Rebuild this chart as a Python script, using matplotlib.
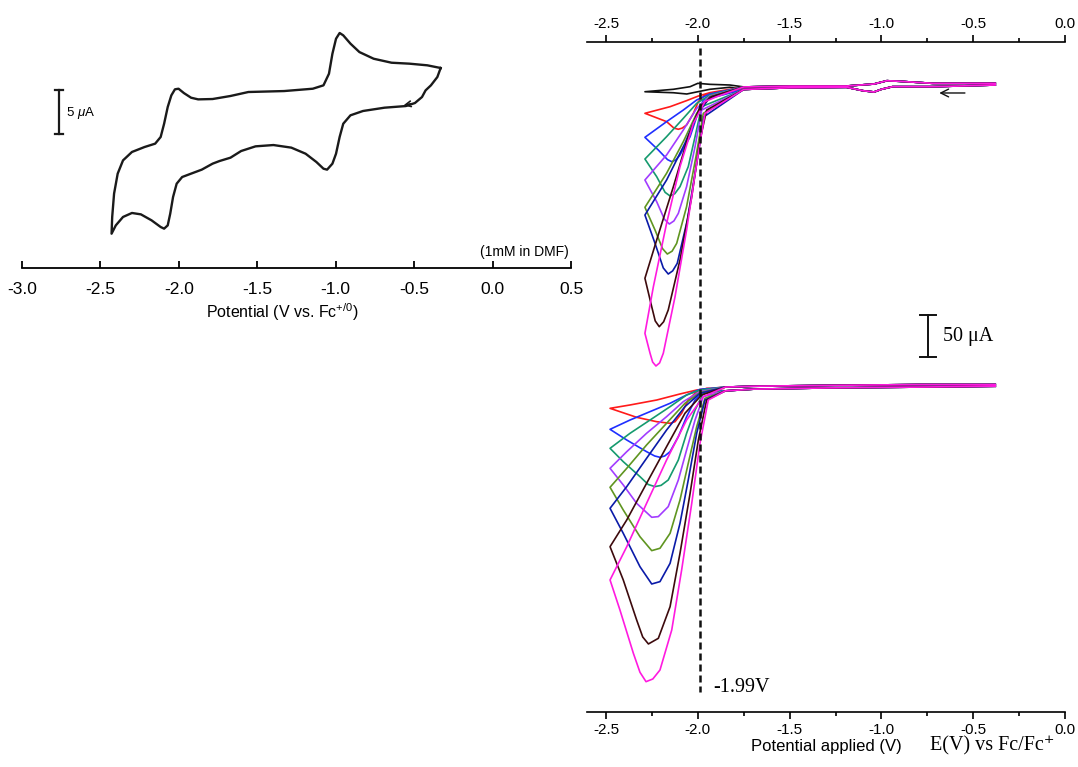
import matplotlib
matplotlib.use('Agg')
import matplotlib.pyplot as plt
from matplotlib.ticker import MultipleLocator, FormatStrFormatter

plt.rcParams['font.family'] = ['Liberation Sans', 'DejaVu Sans']
plt.rcParams['axes.unicode_minus'] = False
plt.rcParams['mathtext.fontset'] = 'custom'
plt.rcParams['mathtext.rm'] = 'Liberation Sans'
plt.rcParams['mathtext.it'] = 'Liberation Sans:italic'

SERIF = ['Liberation Serif', 'DejaVu Serif']

# ---- left: CV of the complex, 1 mM in DMF (V vs Fc, uA) ----
cv_e = [-0.331, -0.352, -0.393, -0.427, -0.450, -0.495, -0.553, -0.689, -0.826, -0.906,
        -0.952, -0.975, -0.998, -1.021, -1.055, -1.078, -1.123, -1.192, -1.283, -1.397,
        -1.511, -1.603, -1.671, -1.740, -1.785, -1.854, -1.922, -1.979, -2.014, -2.037,
        -2.055, -2.071, -2.094, -2.116, -2.174, -2.242, -2.299, -2.356, -2.402, -2.429,
        -2.425, -2.413, -2.390, -2.356, -2.299, -2.219, -2.151, -2.116, -2.094, -2.071,
        -2.048, -2.025, -2.002, -1.968, -1.922, -1.877, -1.785, -1.671, -1.557, -1.329,
        -1.146, -1.078, -1.043, -1.021, -0.998, -0.975, -0.952, -0.906, -0.849, -0.758,
        -0.644, -0.530, -0.416, -0.331]
cv_i = [11.81, 10.77, 9.81, 9.23, 8.46, 7.77, 7.42, 7.23, 6.85, 6.35,
        5.38, 3.85, 1.92, 0.77, 0.08, 0.19, 0.96, 1.92, 2.62, 2.92,
        2.77, 2.23, 1.46, 1.08, 0.77, 0.08, -0.38, -0.77, -1.54, -3.08,
        -5.00, -6.35, -6.73, -6.54, -5.77, -5.08, -4.92, -5.38, -6.35, -7.31,
        -5.38, -2.69, -0.38, 1.15, 2.12, 2.69, 3.08, 3.85, 5.38, 7.31,
        8.65, 9.35, 9.42, 8.92, 8.38, 8.19, 8.23, 8.58, 9.04, 9.15,
        9.42, 9.81, 11.15, 13.46, 15.19, 15.85, 15.58, 14.62, 13.65, 12.88,
        12.42, 12.31, 12.12, 11.81]
left_ticks = [-3.0, -2.5, -2.0, -1.5, -1.0, -0.5, 0.0, 0.5]

# ---- right: repeated scans (uA), top group ----
top_base_fwd_e = [-0.38, -0.72, -0.94, -1.00, -1.04, -1.10, -1.19, -1.50, -1.75]
top_base_fwd_i = [-1.2, -3.2, -3.2, -6.3, -9.5, -8.0, -3.9, -4.5, -6.5]
top_base_ret_e = [-1.75, -1.50, -1.19, -1.04, -0.97, -0.90, -0.72, -0.38]
top_base_ret_i = [-3.5, -2.5, -2.4, 0.0, 3.9, 3.2, 0.8, 0.8]

top_black_e = [-1.825, -1.934, -2.000, -2.060, -2.133, -2.288, -2.133, -2.042, -2.000, -1.934, -1.825]
top_black_i = [-3.9, -6.3, -9.2, -11.9, -10.4, -9.2, -6.3, -3.2, 0.8, -0.4, -1.2]
top_red_e = [-1.961, -1.997, -2.024, -2.061, -2.085, -2.106, -2.130, -2.170, -2.288, -2.151, -2.061, -1.997, -1.934]
top_red_i = [-13.1, -21.0, -34.9, -48.8, -52.5, -53.9, -52.5, -44.8, -34.9, -27.0, -19.8, -14.3, -10.3]
top_blue_e = [-1.970, -2.006, -2.042, -2.097, -2.120, -2.142, -2.165, -2.215, -2.288, -2.170, -2.079, -2.006, -1.934]
top_blue_i = [-19.0, -38.9, -62.7, -84.5, -90.5, -92.5, -90.0, -78.6, -63.5, -44.8, -31.0, -19.0, -11.9]
top_teal_e = [-1.979, -2.015, -2.052, -2.097, -2.125, -2.151, -2.178, -2.224, -2.288, -2.170, -2.079, -2.006, -1.934]
top_teal_i = [-27.0, -62.7, -98.4, -122.2, -130.5, -133.3, -129.0, -110.3, -89.3, -62.7, -40.9, -23.0, -13.1]
top_purple_e = [-1.979, -2.015, -2.061, -2.106, -2.130, -2.155, -2.182, -2.224, -2.288, -2.170, -2.079, -2.006, -1.934]
top_purple_i = [-31.0, -74.6, -122.2, -154.0, -163.0, -166.7, -161.0, -140.1, -114.3, -84.5, -54.8, -29.0, -14.3]
top_olive_e = [-1.970, -2.010, -2.061, -2.115, -2.140, -2.166, -2.192, -2.233, -2.288, -2.170, -2.079, -2.006, -1.934]
top_olive_i = [-34.9, -86.5, -146.0, -189.7, -199.0, -202.4, -196.0, -173.8, -146.8, -106.3, -68.7, -34.9, -15.1]
top_navy_e = [-1.966, -2.006, -2.057, -2.112, -2.137, -2.161, -2.188, -2.233, -2.288, -2.170, -2.070, -2.006, -1.934]
top_navy_i = [-38.9, -94.4, -161.9, -213.5, -222.5, -226.2, -219.0, -189.7, -156.0, -114.3, -70.6, -36.9, -15.9]
top_maroon_e = [-1.952, -1.988, -2.033, -2.097, -2.161, -2.186, -2.210, -2.232, -2.251, -2.288,
                -2.224, -2.133, -2.052, -1.988, -1.924]
top_maroon_i = [-31.0, -66.7, -134.1, -209.5, -269.0, -283.0, -288.9, -282.0, -265.1, -231.3,
                -185.7, -122.2, -62.7, -27.0, -15.1]
top_magenta_e = [-1.961, -2.006, -2.061, -2.124, -2.188, -2.208, -2.228, -2.246, -2.260, -2.288,
                 -2.242, -2.170, -2.097, -2.024, -1.961, -1.897]
top_magenta_i = [-34.9, -94.4, -173.8, -253.2, -320.6, -332.0, -335.7, -331.0, -320.6, -296.8,
                 -241.3, -165.9, -98.4, -46.8, -21.0, -15.1]

# ---- right: bottom group (currents relative to its own baseline) ----
bot_base_fwd_e = [-0.38, -0.80, -1.30, -1.70, -1.85]
bot_base_fwd_i = [-1.5, -2.5, -3.5, -5.0, -7.0]
bot_base_ret_e = [-1.85, -1.70, -1.30, -0.80, -0.38]
bot_base_ret_i = [-2.5, -1.5, -0.5, 0.5, 0.5]

bot_red_e = [-1.952, -2.006, -2.052, -2.088, -2.124, -2.151, -2.224, -2.333, -2.478,
             -2.369, -2.224, -2.097, -2.006, -1.934]
bot_red_i = [-4.0, -7.9, -17.9, -33.7, -43.7, -45.6, -43.7, -38.5, -27.8,
             -23.8, -17.9, -10.7, -6.0, -4.0]
bot_blue_e = [-1.961, -2.015, -2.061, -2.106, -2.151, -2.180, -2.206, -2.235, -2.279, -2.387, -2.478,
              -2.369, -2.260, -2.151, -2.061, -1.988]
bot_blue_i = [-6.0, -17.9, -37.7, -61.5, -79.4, -84.5, -86.1, -84.5, -79.4, -65.5, -52.8,
              -41.7, -31.7, -21.8, -11.9, -5.2]
bot_teal_e = [-1.970, -2.015, -2.061, -2.106, -2.161, -2.200, -2.233, -2.270, -2.315, -2.406, -2.478,
              -2.369, -2.260, -2.151, -2.061, -1.988]
bot_teal_i = [-9.9, -29.8, -57.5, -89.3, -113.1, -119.5, -121.0, -118.5, -109.1, -91.3, -75.4,
              -57.5, -41.7, -25.8, -11.9, -6.0]
bot_purple_e = [-1.970, -2.015, -2.061, -2.106, -2.161, -2.215, -2.251, -2.333, -2.406, -2.478,
                -2.387, -2.279, -2.170, -2.079, -1.988]
bot_purple_i = [-13.9, -41.7, -77.4, -113.1, -144.8, -156.7, -157.5, -140.9, -119.0, -99.2,
                -79.4, -57.5, -37.7, -19.8, -7.9]
bot_olive_e = [-1.961, -2.006, -2.052, -2.097, -2.151, -2.206, -2.251, -2.315, -2.406, -2.478,
               -2.387, -2.279, -2.170, -2.070, -1.988]
bot_olive_i = [-15.9, -49.6, -93.3, -136.9, -176.6, -194.4, -197.2, -180.6, -148.8, -121.8,
               -99.2, -71.4, -45.6, -21.8, -9.1]
bot_navy_e = [-1.961, -2.006, -2.052, -2.097, -2.151, -2.206, -2.251, -2.315, -2.406, -2.478,
              -2.387, -2.279, -2.170, -2.070, -1.988]
bot_navy_i = [-17.9, -57.5, -113.1, -164.7, -212.3, -234.1, -236.9, -216.3, -176.6, -146.8,
              -121.0, -87.3, -53.6, -25.8, -9.9]
bot_maroon_e = [-1.952, -1.997, -2.042, -2.097, -2.151, -2.215, -2.269, -2.300, -2.333, -2.406, -2.478,
                -2.387, -2.279, -2.170, -2.070, -1.979]
bot_maroon_i = [-17.9, -65.5, -129.0, -200.4, -263.9, -301.6, -308.3, -300.0, -279.8, -232.1, -192.5,
                -160.7, -117.1, -73.4, -33.7, -11.9]
bot_magenta_e = [-1.943, -1.988, -2.033, -2.088, -2.142, -2.206, -2.245, -2.282, -2.315, -2.351, -2.424, -2.478,
                 -2.387, -2.279, -2.170, -2.061, -1.970]
bot_magenta_i = [-17.9, -69.4, -140.9, -220.2, -291.7, -339.3, -350.0, -353.2, -342.0, -319.4, -267.9, -232.1,
                 -192.5, -140.9, -89.3, -41.7, -13.9]

BOTTOM_OFFSET = -358.3   # shift of lower group on the shared axis (uA)
onset_v = -1.99

colors = {'black': '#111111', 'red': '#ff1a1a', 'blue': '#1f2fff', 'teal': '#159a6e',
          'purple': '#a23cff', 'olive': '#5f9520', 'navy': '#0a1aa8',
          'maroon': '#3d0a0d', 'magenta': '#ff1ae0'}

top_loops = [('black', top_black_e, top_black_i), ('red', top_red_e, top_red_i),
             ('blue', top_blue_e, top_blue_i), ('teal', top_teal_e, top_teal_i),
             ('purple', top_purple_e, top_purple_i), ('olive', top_olive_e, top_olive_i),
             ('navy', top_navy_e, top_navy_i), ('maroon', top_maroon_e, top_maroon_i),
             ('magenta', top_magenta_e, top_magenta_i)]
bot_loops = [('red', bot_red_e, bot_red_i), ('blue', bot_blue_e, bot_blue_i),
             ('teal', bot_teal_e, bot_teal_i), ('purple', bot_purple_e, bot_purple_i),
             ('olive', bot_olive_e, bot_olive_i), ('navy', bot_navy_e, bot_navy_i),
             ('maroon', bot_maroon_e, bot_maroon_i), ('magenta', bot_magenta_e, bot_magenta_i)]

W, H = 1078, 767
fig = plt.figure(figsize=(W / 100, H / 100), dpi=100)

# left panel
ax1 = fig.add_axes([22 / W, 1 - 268 / H, 549 / W, 248 / H])
ax1.plot(cv_e, cv_i, color='#1a1a1a', lw=1.7, solid_joinstyle='round')
ax1.annotate('', xy=(-0.585, 7.45), xytext=(-0.50, 7.75),
             arrowprops=dict(arrowstyle='->', color='#1a1a1a', lw=1.2))
ax1.set_xlim(-3.0, 0.5)
ax1.set_ylim(-11.27, 17.35)
for s in ['left', 'right', 'top']:
    ax1.spines[s].set_visible(False)
ax1.spines['bottom'].set_linewidth(1.3)
ax1.set_yticks([])
ax1.set_xticks(left_ticks)
ax1.xaxis.set_major_formatter(FormatStrFormatter('%.1f'))
ax1.tick_params(axis='x', direction='in', length=5, width=1.3, labelsize=12.5, pad=10)
# 5 uA scale bar
ax1.plot([-2.763, -2.763], [4.23, 9.23], color='#1a1a1a', lw=1.6)
ax1.plot([-2.79, -2.736], [9.23, 9.23], color='#1a1a1a', lw=1.6)
ax1.plot([-2.79, -2.736], [4.23, 4.23], color='#1a1a1a', lw=1.6)
ax1.text(-2.72, 6.6, '5 $\\mu$A', fontsize=9.5, va='center', ha='left')
fig.text(569 / W, 1 - 252 / H, '(1mM in DMF)', fontsize=10, ha='right', va='center')
fig.text(282 / W, 1 - 312 / H, 'Potential (V vs. Fc$^{+/0}$)', fontsize=11.5, ha='center', va='center')

# right panel
ax2 = fig.add_axes([587 / W, 1 - 712 / H, 478 / W, 670 / H])
for name, e, i in top_loops:
    xs = top_base_fwd_e + e + top_base_ret_e
    ys = top_base_fwd_i + i + top_base_ret_i
    ax2.plot(xs, ys, color=colors[name], lw=1.2, solid_joinstyle='round')
for name, e, i in bot_loops:
    xs = bot_base_fwd_e + e + bot_base_ret_e
    ys = [v + BOTTOM_OFFSET for v in bot_base_fwd_i + i + bot_base_ret_i]
    ax2.plot(xs, ys, color=colors[name], lw=1.2, solid_joinstyle='round')

ax2.plot([onset_v, onset_v], [43, -724], color='#111111', lw=1.8, ls=(0, (2.8, 1.6)))
ax2.text(-1.917, -719, '%.2fV' % onset_v, family=SERIF, fontsize=14.5, ha='left', va='center')
# 50 uA scale bar
ax2.plot([-0.746, -0.746], [-275, -325], color='#111111', lw=1.4)
ax2.plot([-0.79, -0.70], [-275, -275], color='#111111', lw=1.4)
ax2.plot([-0.79, -0.70], [-325, -325], color='#111111', lw=1.4)
ax2.text(-0.664, -300, '50 \u03bcA', family=SERIF, fontsize=14.5, ha='left', va='center')
ax2.annotate('', xy=(-0.70, -10.7), xytext=(-0.53, -10.7),
             arrowprops=dict(arrowstyle='->', color='#111111', lw=1.0, mutation_scale=14))

ax2.set_xlim(-2.6035, 0.0)
ax2.set_ylim(-747.6, 50)
ax2.spines['left'].set_visible(False)
ax2.spines['right'].set_visible(False)
ax2.spines['top'].set_linewidth(1.2)
ax2.spines['bottom'].set_linewidth(1.2)
ax2.set_yticks([])
ax2.xaxis.set_major_locator(MultipleLocator(0.5))
ax2.xaxis.set_minor_locator(MultipleLocator(0.25))
ax2.xaxis.set_major_formatter(FormatStrFormatter('%.1f'))
ax2.tick_params(axis='x', which='both', top=True, labeltop=True, bottom=True,
                labelbottom=True, direction='out', width=1.2, labelsize=11, pad=3)
ax2.tick_params(axis='x', which='major', length=5)
ax2.tick_params(axis='x', which='minor', length=3)

fig.text(826 / W, 1 - 746 / H, 'Potential applied (V)', fontsize=12, ha='center', va='center')
fig.text(992 / W, 1 - 746 / H, 'E(V) vs Fc/Fc\u207a', family=SERIF, fontsize=14.5,
         ha='center', va='center')

fig.savefig('out.png', dpi=100)
